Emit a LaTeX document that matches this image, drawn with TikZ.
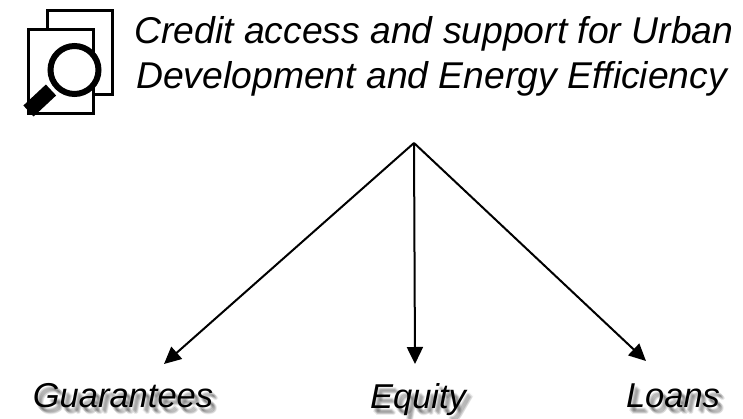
\documentclass[tikz,border=0pt]{standalone}
\usepackage{fontspec}
\setmainfont{Liberation Sans}
\usetikzlibrary{arrows.meta}
\tikzset{
  conn/.style={draw=black,line width=2pt,-{Triangle[length=17pt,width=16pt]}},
  page/.style={draw=black,line width=3pt,fill=white},
  lbl/.style={font=\fontsize{34.5}{38}\selectfont\itshape,anchor=base,inner sep=0pt},
  ttl/.style={font=\fontsize{37.3}{42}\selectfont\itshape,anchor=base west,inner sep=0pt},
  shad/.style={text=black,opacity=0.08},
}
\newcommand{\softlabel}[3]{%
  \foreach \dx/\dy in {2/4,3/3,3/5,4/4,4/6,5/5,5/7,6/6}{
    \node[lbl,shad] at (#1+\dx,#2+\dy) {#3};
  }
  \node[lbl] (#3) at (#1,#2) {#3};
}
\begin{document}
\begin{tikzpicture}[x=1pt,y=-1pt]
\useasboundingbox (0,0) rectangle (743,419);
\fill[white] (0,0) rectangle (743,419);
% icon
\draw[page] (47.5,11) rectangle (112,95);
\draw[page] (28.5,30) rectangle (93,114);
\draw[black,line width=6pt,fill=white] (74.5,70) circle (24);
\draw[black,line width=15pt,line cap=round,line cap=butt] (51,90) -- (28.5,111);
% title
\node[ttl] (t1) at (134,44) {Credit access and support for Urban};
\node[ttl] (t2) at (136,89) {Development and Energy Efficiency};
% connectors
\coordinate (apex) at (414,143);
\softlabel{123}{407}{Guarantees}
\softlabel{418}{408}{Equity}
\softlabel{673}{407}{Loans}
\coordinate (g) at (164,364);
\coordinate (e) at (415,364);
\coordinate (l) at (646,361);
\draw[conn] (apex) -- (g);
\draw[conn] (apex) -- (e);
\draw[conn] (apex) -- (l);
\end{tikzpicture}
\end{document}
